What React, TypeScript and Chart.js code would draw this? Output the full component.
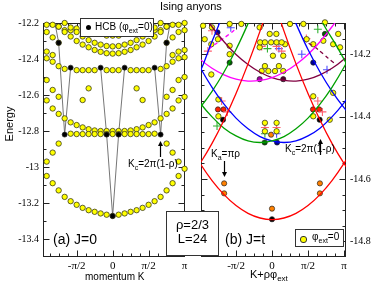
import React, { useEffect, useRef } from "react";
import { Chart, registerables } from "chart.js";
Chart.register(...registerables);

const PI = Math.PI;
const SANS = '"Liberation Sans", Arial, sans-serif';
const SERIF = '"Liberation Serif", "Times New Roman", serif';

// ---------------- Panel (a): J=0, K = n*pi/12 ----------------
const aMomentumIndex = [-11,-10,-9,-8,-7,-6,-5,-4,-3,-2,-1,0,1,2,3,4,5,6,7,8,9,10,11,12];
const aBandLowest = [-13.05,-13.09,-13.13,-13.166,-13.19,-13.21,-13.227,-13.24,-13.249,-13.258,-13.265,-13.272,-13.265,-13.258,-13.249,-13.24,-13.227,-13.21,-13.19,-13.166,-13.13,-13.09,-13.05,-13.01];
const aBandEdge = [-12.97,-12.92,-12.87,null,null,null,null,null,null,null,null,null,null,null,null,null,null,null,null,null,-12.87,-12.92,-12.97,null];
const aBandFlat = [null,null,null,null,-12.815,-12.817,-12.817,-12.817,-12.817,-12.817,-12.817,-12.817,-12.817,-12.817,-12.817,-12.817,-12.817,-12.817,-12.815,null,null,null,null,null];
const aBandArc = [-12.63,-12.675,-12.705,-12.73,-12.752,-12.767,-12.78,-12.79,-12.797,-12.80,-12.80,-12.80,-12.80,-12.80,-12.797,-12.79,-12.78,-12.767,-12.752,-12.73,-12.705,-12.675,-12.63,-12.61];
const aBandSide = [-12.517,-12.572,-12.61,null,null,null,-12.628,-12.563,null,null,null,null,null,null,null,-12.563,-12.628,null,null,null,-12.61,-12.572,-12.517,-12.5];
const aBandMid = [-12.396,-12.415,-12.44,-12.455,null,-12.462,-12.462,-12.462,-12.462,null,-12.462,-12.462,-12.462,null,-12.462,-12.462,-12.462,-12.462,null,-12.455,-12.44,-12.415,-12.396,-12.39];
const aBandEdgeHigh = [-12.359,-12.378,null,null,null,null,null,null,null,null,null,null,null,null,null,null,null,null,null,null,null,-12.378,-12.359,-12.35];
const aBandUp1 = [null,null,-12.22,-12.25,-12.275,-12.30,-12.32,-12.335,-12.35,-12.36,-12.368,-12.37,-12.368,-12.36,-12.35,-12.335,-12.32,-12.30,-12.275,-12.25,-12.22,null,null,null];
const aBandUp2 = [null,null,null,-12.2,-12.225,-12.25,-12.275,-12.295,-12.31,-12.32,-12.328,-12.33,-12.328,-12.32,-12.31,-12.295,-12.275,-12.25,-12.225,-12.2,null,null,null,null];
const aBandUp3 = [-12.25,-12.28,-12.31,null,null,null,-12.21,-12.23,-12.25,-12.26,-12.27,-12.27,-12.27,-12.26,-12.25,-12.23,-12.21,null,null,null,-12.31,-12.28,-12.25,-12.24];
const aBandTop = [-12.21,-12.21,-12.22,-12.24,-12.24,-12.23,null,null,null,-12.21,-12.22,-12.21,-12.22,-12.21,null,null,null,-12.23,-12.24,-12.24,-12.22,-12.21,-12.21,-12.2];
// HCB lowest energies; values above -12.2 lie outside the frame (line leaves the top)
const aHcb = [null,-12.13,-12.31,-12.82,-12.448,null,null,null,null,-12.448,-12.82,-13.272,-12.82,-12.448,null,null,null,null,-12.448,-12.82,-12.31,-12.13,null,null];

const aYTicks = [-12.2,-12.4,-12.6,-12.8,-13,-13.2,-13.4];
const bYTicks = [-14.2,-14.4,-14.6,-14.8];
const xTickValues = [-PI / 2, 0, PI / 2, PI];
const xTickLabels = ["-\u03c0/2", "0", "\u03c0/2", "\u03c0"];

// ---------------- Panel (b): J=t, curves sampled at K = s*pi/6 ----------------
const bCurveSteps = [-7,-6,-5,-4,-3,-2,-1,0,1,2,3,4,5,6,7];
const bRedMid = [-14.486,-14.55,-14.605,-14.65,-14.685,-14.71,-14.725,-14.73,-14.725,-14.71,-14.685,-14.65,-14.605,-14.55,-14.486];
const bRedRight = [null,null,null,null,null,null,-13.89,-14.01,-14.126,-14.231,-14.326,-14.411,-14.486,-14.55,-14.605];
const bRedLeft = [-14.605,-14.55,-14.486,-14.411,-14.326,-14.231,-14.126,-14.01,-13.89,null,null,null,null,null,null];
const bGreenLow = [-14.301,-14.356,-14.401,-14.437,-14.462,-14.478,-14.483,-14.478,-14.464,-14.439,-14.405,-14.36,-14.306,-14.242,-14.168];
const bBlueLow = [-14.168,-14.242,-14.306,-14.36,-14.405,-14.439,-14.464,-14.478,-14.483,-14.478,-14.462,-14.437,-14.401,-14.356,-14.301];
const bGreenSteep = [-14.413,-14.371,-14.319,-14.257,-14.185,-14.102,-14.01,-13.908,null,null,null,null,null,null,null];
const bBlueSteep = [null,null,null,null,null,null,null,-13.908,-14.01,-14.102,-14.185,-14.257,-14.319,-14.371,-14.413];
const bMagenta = [-14.179,-14.216,-14.245,-14.266,-14.28,-14.286,-14.284,-14.275,-14.258,-14.233,-14.201,-14.16,-14.112,-14.058,-14.0];
const bMaroon = [-14.0,-14.058,-14.112,-14.16,-14.201,-14.233,-14.258,-14.275,-14.284,-14.286,-14.28,-14.266,-14.245,-14.216,-14.179];
// short steep pieces near the edges
const bBlueEdgeK = [-3.3, -3.0, -2.68, -2.36, -2.05];
const bBlueEdgeE = [-14.28, -14.232, -14.17, -14.113, -14.05];
const bGreenEdgeK = [2.0, 2.24, 2.75, 3.26, 3.5];
const bGreenEdgeE = [-14.06, -14.103, -14.165, -14.232, -14.27];
const bMagentaDashK = [-2.75, -2.66, -2.25, -1.85, -1.6];
const bMagentaDashE = [-14.185, -14.178, -14.156, -14.135, -14.12];
const bMaroonDashK = [1.6, 1.88, 2.25, 2.6, 2.75];
const bMaroonDashE = [-14.165, -14.178, -14.2, -14.222, -14.23];

const bYellowK = [-3.01,-2.62,-1.85,-1.34,-0.54,-2.94,-2.65,-2.36,-1.85,-1.85,-2.65,-2.34,-2.34,
  -0.10,0.19,-0.54,0.04,0.57,0.49,-0.52,-0.31,-0.04,0.2,0.42,-0.45,-0.16,0.13,0.49,-0.31,0.3,
  0.785,1.37,2.31,1.51,1.80,2.24,2.67,2.89,2.97,1.80,2.67,1.80,2.52,
  -0.31,0.2,-0.31,0.2];
const bYellowE = [-14.109,-14.114,-14.103,-14.103,-14.114,-14.152,-14.168,-14.152,-14.173,-14.2,-14.265,-14.345,-14.399,
  -14.135,-14.135,-14.178,-14.205,-14.168,-14.205,-14.162,-14.162,-14.162,-14.162,-14.162,-14.254,-14.254,-14.254,-14.254,-14.238,-14.238,
  -14.103,-14.103,-14.098,-14.152,-14.168,-14.157,-14.168,-14.135,-14.178,-14.335,-14.324,-14.399,-14.41,
  -14.42,-14.42,-14.447,-14.447];
const bBlackK = [0, -2.14, 2.08];
const bBlackE = [-14.729, -14.41, -14.41];
const bOrangeK = [0, -2.09, -2.09, 2.09, 2.09, -0.04];
const bOrangeE = [-14.695, -14.614, -14.646, -14.614, -14.646, -14.458];
const bRedDotK = [-2.36, -2.12, 1.79, 2.06];
const bRedDotE = [-14.377, -14.377, -14.377, -14.377];
const bGreenDotK = [-0.32, -1.85, 2.31];
const bGreenDotE = [-14.483, -14.227, -14.135];
const bBlueDotK = [0.22, 1.80, -2.38];
const bBlueDotE = [-14.483, -14.227, -14.13];
const bMagentaDotK = [-0.54];
const bMagentaDotE = [-14.28];
const bMaroonDotK = [0.49];
const bMaroonDotE = [-14.28];
const bPinkCrossK = [-2.62, -0.45, 0.2, 0.42, -2.2, -1.95, 2.0, 2.2, -0.31, 0.2, 1.5, -2.8];
const bPinkCrossE = [-14.125, -14.175, -14.175, -14.19, -14.35, -14.385, -14.35, -14.385, -14.435, -14.435, -14.15, -14.19];
const bGreenCrossK = [-0.2, 2.0, -2.4, -0.31];
const bGreenCrossE = [-14.182, -14.12, -14.43, -14.455];
const bBlueCrossK = [-1.8, 0.3, 1.3, 0.2, 2.4];
const bBlueCrossE = [-14.115, -14.182, -14.2, -14.455, -14.25];

function zip(ks: number[], es: (number | null)[]) {
  return ks.map((k, i) => ({ x: k, y: es[i] as number }));
}
const aPts = (vals: (number | null)[]) => aMomentumIndex.map((n, i) => ({ x: (n * PI) / 12, y: vals[i] as number }));
const bCurve = (vals: (number | null)[]) => bCurveSteps.map((s, i) => ({ x: (s * PI) / 6, y: vals[i] as number }));

function minorValues(min: number, max: number, step: number) {
  const out: number[] = [];
  const start = Math.ceil(min / step - 1e-9);
  for (let i = start; i * step <= max + 1e-9; i++) out.push(i * step);
  return out;
}

const frameTicks = {
  id: "frameTicks",
  beforeDatasetsDraw(chart: any, _a: any, opts: any) {
    const { ctx, chartArea: ca, scales } = chart;
    const xs = scales.x, ys = scales.y;
    ctx.save();
    ctx.strokeStyle = "#222";
    ctx.lineWidth = 1;
    const L = Math.round(ca.left) + 0.5, R = Math.round(ca.right) - 0.5;
    const T = Math.round(ca.top) + 0.5, B = Math.round(ca.bottom) - 0.5;
    ctx.strokeRect(L, T, R - L, B - T);
    const seg = (x1: number, y1: number, x2: number, y2: number) => {
      ctx.beginPath(); ctx.moveTo(x1, y1); ctx.lineTo(x2, y2); ctx.stroke();
    };
    const doX = (v: number, len: number) => {
      const p = Math.round(xs.getPixelForValue(v)) + 0.5;
      if (p < L || p > R) return;
      seg(p, B, p, B - len); seg(p, T, p, T + len);
    };
    const doY = (v: number, len: number) => {
      const p = Math.round(ys.getPixelForValue(v)) + 0.5;
      if (p < T - 0.1 || p > B + 0.1) return;
      seg(L, p, L + len, p); seg(R, p, R - len, p);
    };
    minorValues(xs.min, xs.max, opts.xMinor).forEach((v) => doX(v, 3));
    minorValues(ys.min, ys.max, opts.yMinor).forEach((v) => doY(v, 3));
    xTickValues.forEach((v) => doX(v, 6));
    opts.yMajor.forEach((v: number) => doY(v, 6));
    ctx.restore();
  },
};

const yellowPt = {
  showLine: false, pointRadius: 2.7, pointBackgroundColor: "#ffff00",
  pointBorderColor: "#3a3a1a", pointBorderWidth: 0.8, clip: 4,
};
const dot = (c: string) => ({
  showLine: false, pointRadius: 2.6, pointBackgroundColor: c, pointBorderColor: "#222",
  pointBorderWidth: 0.7, clip: 4,
});
const cross = (c: string) => ({
  showLine: false, pointStyle: "cross", pointRadius: 4, pointBorderColor: c, borderColor: c,
  pointBorderWidth: 1.1, clip: 4,
});
const curve = (c: string, dash?: number[]) => ({
  showLine: true, pointRadius: 0, borderColor: c, borderWidth: 1.3, tension: 0.4,
  spanGaps: false, borderDash: dash || [], clip: 0,
});

function baseOptions(xMin: number, xMax: number, yMin: number, yMax: number, yTicks: number[], yPos: "left" | "right", pad: any, yWidth: number, yMinor: number) {
  return {
    responsive: false,
    animation: false as const,
    devicePixelRatio: 1,
    events: [],
    layout: { padding: pad },
    plugins: {
      legend: { display: false },
      tooltip: { enabled: false },
      frameTicks: { xMinor: PI / 8, yMinor, yMajor: yTicks },
    },
    scales: {
      x: {
        type: "linear", min: xMin, max: xMax,
        grid: { display: false, drawTicks: false, tickLength: 0 }, border: { display: false },
        afterBuildTicks: (s: any) => { s.ticks = xTickValues.map((v) => ({ value: v })); },
        ticks: {
          autoSkip: false, maxRotation: 0, padding: 3, color: "#000",
          font: { family: SERIF, size: 11 },
          callback: (_v: any, i: number) => xTickLabels[i],
        },
        afterFit: (s: any) => { s.height = 32; },
      },
      y: {
        type: "linear", min: yMin, max: yMax, position: yPos,
        grid: { display: false, drawTicks: false, tickLength: 0 }, border: { display: false },
        afterBuildTicks: (s: any) => { s.ticks = yTicks.map((v) => ({ value: v })); },
        ticks: {
          autoSkip: false, padding: 4, color: "#000",
          font: { family: SERIF, size: 10 },
          callback: (v: any) => String(v),
        },
        afterFit: (s: any) => { s.width = yWidth; },
      },
    },
  };
}

function PanelA() {
  const ref = useRef<HTMLCanvasElement>(null);
  useEffect(() => {
    const bands = [aBandLowest, aBandEdge, aBandFlat, aBandArc, aBandSide, aBandMid, aBandEdgeHigh, aBandUp1, aBandUp2, aBandUp3, aBandTop];
    const datasets: any[] = [
      { data: aPts(aHcb), showLine: true, spanGaps: false, borderColor: "#666", borderWidth: 0.9, pointRadius: 0, clip: 0, order: 3 },
      ...bands.map((b) => ({ data: aPts(b), ...yellowPt, order: 2 })),
      { data: aPts(aHcb), ...dot("#000"), pointRadius: 2.5, clip: 0, order: 1 },
    ];
    const chart = new Chart(ref.current as HTMLCanvasElement, {
      type: "scatter",
      data: { datasets },
      options: baseOptions(-3.04, 3.16, -13.5, -12.2, aYTicks, "left", { left: 0, right: 7, top: 23, bottom: 0 }, 43, 0.1) as any,
      plugins: [frameTicks],
    });
    return () => chart.destroy();
  }, []);
  return <canvas ref={ref} width={192} height={289} style={{ position: "absolute", left: 0, top: 0, width: 192, height: 289 }} />;
}

function PanelB() {
  const ref = useRef<HTMLCanvasElement>(null);
  useEffect(() => {
    const datasets: any[] = [
      { data: bCurve(bRedMid), ...curve("#ff0000") },
      { data: bCurve(bRedRight), ...curve("#ff0000") },
      { data: bCurve(bRedLeft), ...curve("#ff0000") },
      { data: bCurve(bGreenLow), ...curve("#00a000") },
      { data: bCurve(bBlueLow), ...curve("#0000ff") },
      { data: bCurve(bGreenSteep), ...curve("#00a000") },
      { data: bCurve(bBlueSteep), ...curve("#0000ff") },
      { data: zip(bBlueEdgeK, bBlueEdgeE), ...curve("#0000ff") },
      { data: zip(bGreenEdgeK, bGreenEdgeE), ...curve("#00a000") },
      { data: bCurve(bMagenta), ...curve("#ff00ff") },
      { data: bCurve(bMaroon), ...curve("#800040") },
      { data: zip(bMagentaDashK, bMagentaDashE), ...curve("#ff00ff", [4, 3]) },
      { data: zip(bMaroonDashK, bMaroonDashE), ...curve("#800040", [4, 3]) },
      { data: zip(bYellowK, bYellowE), ...yellowPt },
      { data: zip(bPinkCrossK, bPinkCrossE), ...cross("#ff6070") },
      { data: zip(bGreenCrossK, bGreenCrossE), ...cross("#30b030") },
      { data: zip(bBlueCrossK, bBlueCrossE), ...cross("#5050ff") },
      { data: zip(bOrangeK, bOrangeE), ...dot("#ff8000") },
      { data: zip(bRedDotK, bRedDotE), ...dot("#ff2000") },
      { data: zip(bGreenDotK, bGreenDotE), ...dot("#006000") },
      { data: zip(bBlueDotK, bBlueDotE), ...dot("#000090") },
      { data: zip(bMagentaDotK, bMagentaDotE), ...dot("#a000a0") },
      { data: zip(bMaroonDotK, bMaroonDotE), ...dot("#500030") },
      { data: zip(bBlackK, bBlackE), ...dot("#000") },
    ];
    const chart = new Chart(ref.current as HTMLCanvasElement, {
      type: "scatter",
      data: { datasets },
      options: baseOptions(-3.1, 3.23, -14.85, -14.1, bYTicks, "right", { left: 11, right: 0, top: 23, bottom: 0 }, 28, 0.05) as any,
      plugins: [frameTicks],
    });
    return () => chart.destroy();
  }, []);
  return <canvas ref={ref} width={184} height={289} style={{ position: "absolute", left: 190, top: 0, width: 184, height: 289 }} />;
}

const abs = (l: number, t: number, extra: any = {}) => ({ position: "absolute" as const, left: l, top: t, whiteSpace: "nowrap" as const, ...extra });

export default function App() {
  return (
    <div style={{ position: "absolute", left: 0, top: 0, width: 374, height: 289, background: "#fff", overflow: "hidden", fontFamily: SANS }}>
      <PanelA />
      <PanelB />
      <div style={abs(160, 0, { fontSize: 11 })}>Ising anyons</div>
      <div style={abs(-13, 118, { fontSize: 11, transform: "rotate(-90deg)", width: 44, textAlign: "center" })}>Energy</div>
      <div style={abs(85, 271, { fontSize: 10 })}>momentum K</div>
      <div style={abs(250, 268, { fontSize: 11 })}>K+ρφ<sub style={{ fontSize: 8 }}>ext</sub></div>
      <div style={abs(53, 231, { fontSize: 14 })}>(a) J=0</div>
      <div style={abs(225, 231, { fontSize: 14 })}>(b) J=t</div>
      {/* legend a */}
      <div style={abs(80, 18, { width: 72, height: 17, border: "1px solid #333", background: "#fff", fontSize: 10 })}>
        <span style={abs(5, 6, { width: 5, height: 5, borderRadius: 3, background: "#000" })}></span>
        <span style={abs(14, 2)}>HCB (φ<sub style={{ fontSize: 7 }}>ext</sub>=0)</span>
      </div>
      {/* legend b */}
      <div style={abs(295, 229, { width: 47, height: 16, border: "1px solid #333", background: "#fff", fontSize: 10 })}>
        <span style={abs(4, 6, { width: 5, height: 5, borderRadius: 3, background: "#ff0", border: "0.5px solid #333" })}></span>
        <span style={abs(16, 1)}>φ<sub style={{ fontSize: 7 }}>ext</sub>=0</span>
      </div>
      {/* rho box */}
      <div style={abs(166, 211, { width: 51, height: 43, border: "1px solid #333", background: "#fff", fontSize: 13, textAlign: "center", lineHeight: "14px" })}>
        <div style={{ marginTop: 6 }}>ρ=2/3</div>
        <div>L=24</div>
      </div>
      {/* annotations */}
      <div style={abs(128, 158, { fontSize: 10 })}>K<sub style={{ fontSize: 7 }}>c</sub>=2π(1-ρ)</div>
      <div style={abs(285, 143, { fontSize: 10 })}>K<sub style={{ fontSize: 7 }}>c</sub>=2π(1-ρ)</div>
      <div style={abs(211, 148, { fontSize: 10 })}>K<sub style={{ fontSize: 7 }}>a</sub>=πρ</div>
      <svg width={374} height={289} style={abs(0, 0, { pointerEvents: "none" })}>
        <line x1={160.5} y1={157} x2={160.5} y2={145} stroke="#000" strokeWidth={1.2} />
        <polygon points="158,146 163,146 160.5,141" fill="#000" />
        <line x1={320.5} y1={155} x2={320.5} y2={143} stroke="#000" strokeWidth={1.2} />
        <polygon points="318,144 323,144 320.5,139" fill="#000" />
        <line x1={224.5} y1={161} x2={224.5} y2={173} stroke="#000" strokeWidth={1.2} />
        <polygon points="222,172 227,172 224.5,177" fill="#000" />
      </svg>
    </div>
  );
}
